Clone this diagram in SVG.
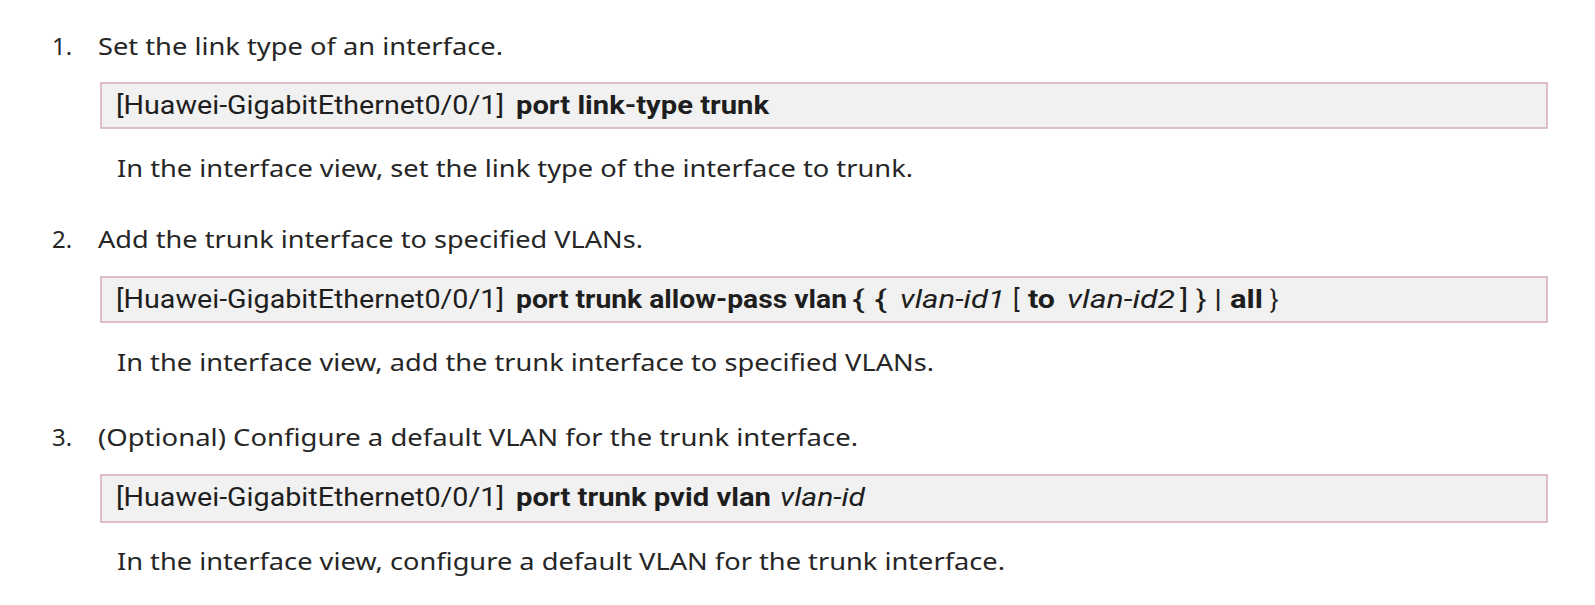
<svg xmlns="http://www.w3.org/2000/svg" width="1595" height="605" viewBox="0 0 1595 605">
<style>
.t{font-family:"Noto Sans","Open Sans","Liberation Sans",sans-serif;font-size:24px;fill:#262626}
.c{font-family:Roboto,"Noto Sans","Liberation Sans",sans-serif;font-size:25px;fill:#1e1e1e}
.b{font-weight:bold}
.i{font-style:italic}
.box{fill:#f1f1f1;stroke:#d9b0c0;stroke-width:1.6}
</style>
<rect width="1595" height="605" fill="#ffffff"/>
<g id="step1">
<text class="t" x="52" y="55">1.</text>
<text class="t" x="98" y="55" textLength="405" lengthAdjust="spacingAndGlyphs">Set the link type of an interface.</text>
<rect class="box" x="101" y="83" width="1446" height="45"/>
<text class="c" x="116" y="114" textLength="388" lengthAdjust="spacingAndGlyphs">[Huawei-GigabitEthernet0/0/1]</text>
<text class="c b" x="516" y="114" textLength="253" lengthAdjust="spacingAndGlyphs">port link-type trunk</text>
<text class="t" x="117" y="177" textLength="796" lengthAdjust="spacingAndGlyphs">In the interface view, set the link type of the interface to trunk.</text>
</g>
<g id="step2">
<text class="t" x="52" y="248">2.</text>
<text class="t" x="98" y="248" textLength="545" lengthAdjust="spacingAndGlyphs">Add the trunk interface to specified VLANs.</text>
<rect class="box" x="101" y="277" width="1446" height="45"/>
<text class="c" x="116" y="308" textLength="388" lengthAdjust="spacingAndGlyphs">[Huawei-GigabitEthernet0/0/1]</text>
<text class="c b" x="516" y="308" textLength="331" lengthAdjust="spacingAndGlyphs">port trunk allow-pass vlan</text>
<text class="c" x="852" y="308" textLength="35" lengthAdjust="spacingAndGlyphs">{ {</text>
<text class="c i" x="900" y="308" textLength="105" lengthAdjust="spacingAndGlyphs">vlan-id1</text>
<text class="c" x="1013" y="308">[</text>
<text class="c b" x="1028" y="308" textLength="27" lengthAdjust="spacingAndGlyphs">to</text>
<text class="c i" x="1067" y="308" textLength="108" lengthAdjust="spacingAndGlyphs">vlan-id2</text>
<text class="c" x="1180" y="308" textLength="42" lengthAdjust="spacingAndGlyphs">] } |</text>
<text class="c b" x="1230" y="308" textLength="33" lengthAdjust="spacingAndGlyphs">all</text>
<text class="c" x="1270" y="308">}</text>
<text class="t" x="117" y="371" textLength="817" lengthAdjust="spacingAndGlyphs">In the interface view, add the trunk interface to specified VLANs.</text>
</g>
<g id="step3">
<text class="t" x="52" y="446">3.</text>
<text class="t" x="98" y="446" textLength="760" lengthAdjust="spacingAndGlyphs">(Optional) Configure a default VLAN for the trunk interface.</text>
<rect class="box" x="101" y="475" width="1446" height="47"/>
<text class="c" x="116" y="506" textLength="388" lengthAdjust="spacingAndGlyphs">[Huawei-GigabitEthernet0/0/1]</text>
<text class="c b" x="516" y="506" textLength="255" lengthAdjust="spacingAndGlyphs">port trunk pvid vlan</text>
<text class="c i" x="780" y="506" textLength="85" lengthAdjust="spacingAndGlyphs">vlan-id</text>
<text class="t" x="117" y="570" textLength="888" lengthAdjust="spacingAndGlyphs">In the interface view, configure a default VLAN for the trunk interface.</text>
</g>
<g id="connectors"/>
</svg>
